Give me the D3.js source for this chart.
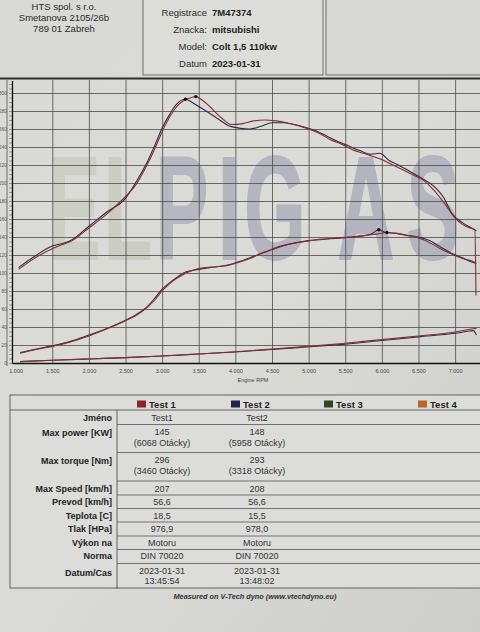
<!DOCTYPE html>
<html><head><meta charset="utf-8">
<script src="https://cdn.jsdelivr.net/npm/d3@7"></script>
<style>
html,body{margin:0;padding:0;background:#d6d6d3;}
svg{display:block;font-family:"Liberation Sans",Arial,sans-serif;}
</style>
</head><body>
<svg id="c" width="480" height="632"></svg>
<script>
// ---------- DATA ----------
const companyLines = ["HTS spol. s r.o.", "Smetanova 2105/26b", "789 01 Zabreh"];
const vehicleLabels = ["Registrace", "Znacka:", "Model:", "Datum"];
const vehicleValues = ["7M47374", "mitsubishi", "Colt 1,5 110kw", "2023-01-31"];

const rpmTicks = [1000,1500,2000,2500,3000,3500,4000,4500,5000,5500,6000,6500,7000];
const yTicks = [0,20,40,60,80,100,120,140,160,180,200,220,240,260,280,300];
const xTitle = "Engine RPM";
const watermarkLetters = ["E","L","P","I","G","A","S"];

const torqueTest1 = [[1040,104],[1250,116],[1500,127],[1650,132],[1750,135],[2000,150],[2250,166],[2500,185],[2650,199],[2800,221],[2900,238],[3000,257],[3100,273],[3200,285],[3300,292],[3400,295],[3460,296],[3550,292],[3650,285],[3800,273],[3950,265],[4100,266],[4250,269],[4400,270],[4550,269],[4700,267],[4850,264],[5000,260],[5150,255],[5300,248],[5450,243],[5600,237],[5750,233],[5900,229],[6000,226],[6100,222],[6250,216],[6400,210],[6550,204],[6700,193],[6850,178],[7000,161],[7100,154],[7200,150],[7270,148],[7285,75]];
const torqueTest2 = [[1040,106],[1250,118],[1500,130],[1650,133],[1750,136],[2000,152],[2250,168],[2500,183],[2650,202],[2800,224],[2900,242],[3000,261],[3100,276],[3200,288],[3318,293],[3400,290],[3500,285],[3600,280],[3750,272],[3900,264],[4050,261],[4200,260],[4350,263],[4500,267],[4650,267],[4800,265],[4950,262],[5100,258],[5250,252],[5400,246],[5550,241],[5700,236],[5850,232],[5972,233],[6100,225],[6250,219],[6400,212],[6550,205],[6700,197],[6850,183],[6950,167],[7100,156],[7200,151],[7290,147]];
const powerTest1 = [[1060,11],[1250,14.5],[1500,18.5],[1750,23.5],[2000,30],[2250,38],[2500,47],[2650,53],[2800,62],[2900,70],[3000,80],[3100,88],[3200,94],[3300,99],[3460,104],[3600,106],[3750,107],[3900,108.5],[4050,112],[4200,116],[4350,122],[4500,126],[4650,130],[4800,133],[4950,135],[5100,137],[5250,138],[5400,139],[5550,140],[5700,141],[5850,142.5],[5950,143.5],[6068,145],[6200,144],[6350,141.5],[6500,139],[6650,134],[6800,127],[6950,121],[7100,116],[7250,112.5],[7285,110]];
const powerTest2 = [[1060,11.5],[1250,15],[1500,19],[1750,24],[2000,31],[2250,38.5],[2500,47.5],[2650,54],[2800,63],[2900,72],[3000,82],[3100,89],[3200,95],[3318,101],[3500,104],[3650,106],[3800,107.5],[3950,110],[4100,114],[4250,118.5],[4400,123],[4550,128],[4700,131.5],[4850,134],[5000,136],[5150,137],[5300,138],[5450,139],[5600,140],[5750,141.5],[5850,143],[5958,148],[6050,145],[6200,144],[6350,142],[6500,140],[6650,136],[6800,129],[6950,122],[7100,117],[7200,113],[7290,111]];
const lossTest1 = [[1060,1.5],[1500,3],[2000,4.5],[2500,6],[3000,7.8],[3500,10],[4000,12.5],[4500,15.5],[5000,18.5],[5500,22],[6000,26],[6500,30],[7000,34.5],[7250,38],[7290,38.5]];
const lossTest2 = [[1060,1.5],[1500,3],[2000,4.5],[2500,6],[3000,7.8],[3500,10],[4000,12.3],[4500,15],[5000,18],[5500,21],[6000,25],[6500,29],[7000,33],[7200,35.5],[7250,36],[7290,31]];
const peakMarkers = [[3460,296],[3318,293],[6068,145],[5958,148]];

const legendNames = ["Test 1","Test 2","Test 3","Test 4"];
const legendColors = ["#8e2424","#22224e","#2f4a22","#b8682e"];
const rowLabels = ["Jméno","Max power [KW]","Max torque [Nm]","Max Speed [km/h]","Prevod [km/h]","Teplota [C]","Tlak [HPa]","Výkon na","Norma","Datum/Cas"];
const test1Values = [["Test1"],["145","(6068 Otácky)"],["296","(3460 Otácky)"],["207"],["56,6"],["18,5"],["976,9"],["Motoru"],["DIN 70020"],["2023-01-31","13:45:54"]];
const test2Values = [["Test2"],["148","(5958 Otácky)"],["293","(3318 Otácky)"],["208"],["56,6"],["15,5"],["978,0"],["Motoru"],["DIN 70020"],["2023-01-31","13:48:02"]];
const footer = "Measured on V-Tech dyno (www.vtechdyno.eu)";

// ---------- LAYOUT ----------
const svg = d3.select("#c");
const defs = svg.append("defs");
const bg = defs.append("linearGradient").attr("id","bg").attr("x1","0").attr("y1","0").attr("x2","1").attr("y2","1");
bg.append("stop").attr("offset","0").attr("stop-color","#d9d9d6");
bg.append("stop").attr("offset","0.5").attr("stop-color","#dbdbd8");
bg.append("stop").attr("offset","1").attr("stop-color","#cdcdcb");
svg.append("rect").attr("width",480).attr("height",632).attr("fill","url(#bg)");

// header
svg.append("g").selectAll("text").data(companyLines).join("text")
  .attr("x",64).attr("y",(d,i)=>9.5+i*11).attr("text-anchor","middle")
  .attr("font-size",9.5).attr("fill","#2a2a2a").text(d=>d);
svg.append("rect").attr("x",143).attr("y",-2).attr("width",180).attr("height",77)
  .attr("fill","#dcdcd9").attr("stroke","#555").attr("stroke-width",0.8);
svg.append("rect").attr("x",326).attr("y",-2).attr("width",160).attr("height",77)
  .attr("fill","#d7d7d4").attr("stroke","#555").attr("stroke-width",0.8);
const hdrY = [13,30,47,63.5];
vehicleLabels.forEach((t,i)=>{
  svg.append("text").attr("x",207).attr("y",hdrY[i]+3.3).attr("text-anchor","end")
    .attr("font-size",9.5).attr("fill","#2a2a2a").text(t);
  svg.append("text").attr("x",212).attr("y",hdrY[i]+3.3)
    .attr("font-size",9.5).attr("font-weight","bold").attr("fill","#222").text(vehicleValues[i]);
});

// chart
const x = d3.scaleLinear().domain([950,7340]).range([12,480]);
const y = d3.scaleLinear().domain([0,314]).range([363,80.4]);

// watermark (letters drawn individually)
const wmCenters = [74,128,182,229,275,366,433];
const wmColors = ["#cdcfc4","#cbcdc2","#b7b7c1","#b5b5bf","#b5b5bf","#b4b4be","#b5b5bf"];
svg.append("g").selectAll("text").data(watermarkLetters).join("text")
  .attr("transform",(d,i)=>`translate(${wmCenters[i]},259) scale(0.54,1)`)
  .attr("text-anchor","middle").attr("font-size",146).attr("font-weight","bold")
  .attr("fill",(d,i)=>wmColors[i]).attr("stroke",(d,i)=>wmColors[i]).attr("stroke-width",2)
  .attr("stroke-linejoin","round").text(d=>d);

// grid
svg.append("g").attr("transform","translate(0,363)")
  .call(d3.axisBottom(x).tickValues(rpmTicks.slice(1)).tickSize(-(363-80)).tickFormat(""))
  .call(g=>g.select(".domain").remove())
  .call(g=>g.selectAll("line").attr("stroke","#4a4a4a").attr("stroke-width",0.8));
svg.append("g").attr("transform","translate(12,0)")
  .call(d3.axisLeft(y).tickValues(yTicks.slice(1)).tickSize(-(480-12)).tickFormat(""))
  .call(g=>g.select(".domain").remove())
  .call(g=>g.selectAll("line").attr("stroke","#4a4a4a").attr("stroke-width",0.8));

// frame
svg.append("line").attr("x1",0).attr("x2",480).attr("y1",78.5).attr("y2",78.5).attr("stroke","#2e2e2e").attr("stroke-width",2);
svg.append("line").attr("x1",7).attr("x2",7).attr("y1",80).attr("y2",366).attr("stroke","#555").attr("stroke-width",0.8);

// minor ticks
svg.append("g").attr("transform","translate(12,0)")
  .call(d3.axisLeft(y).tickValues(d3.range(0,315,5)).tickSize(3).tickFormat(""))
  .call(g=>g.select(".domain").remove())
  .call(g=>g.selectAll("line").attr("stroke","#555").attr("stroke-width",0.5));

// axes
const fmt = d3.formatLocale({decimal:",",thousands:".",grouping:[3],currency:["",""]}).format(",");
svg.append("g").attr("transform","translate(0,363)")
  .call(d3.axisBottom(x).tickValues(rpmTicks).tickSize(0).tickPadding(6).tickFormat(fmt))
  .call(g=>g.select(".domain").attr("stroke","#111").attr("stroke-width",1.3))
  .call(g=>g.selectAll("text").attr("font-size",5.5).attr("fill","#444").attr("font-family","Liberation Sans, Arial"));
svg.append("g").attr("transform","translate(12,0)")
  .call(d3.axisLeft(y).tickValues(yTicks).tickSize(0).tickPadding(5).tickFormat(d3.format("d")))
  .call(g=>g.select(".domain").attr("stroke","#111").attr("stroke-width",1.3))
  .call(g=>g.selectAll("text").attr("font-size",5).attr("fill","#555").attr("font-family","Liberation Sans, Arial"));
svg.append("text").attr("x",253).attr("y",382).attr("text-anchor","middle").attr("font-size",5.5).attr("fill","#444").text(xTitle);

// curves
const line = d3.line().x(d=>x(d[0])).y(d=>y(d[1])).curve(d3.curveMonotoneX);
const curves = [[lossTest2,1],[lossTest1,0],[powerTest2,1],[powerTest1,0],[torqueTest2,1],[torqueTest1,0]];
const lineColors = ["#8a2c2c","#2e2e52"];
svg.append("g").selectAll("path").data(curves).join("path")
  .attr("d",d=>line(d[0])).attr("fill","none")
  .attr("stroke",d=>lineColors[d[1]]).attr("stroke-width",1.1);
svg.append("g").selectAll("circle").data(peakMarkers).join("circle")
  .attr("cx",d=>x(d[0])).attr("cy",d=>y(d[1])).attr("r",1.7).attr("fill","#111");

// ---------- TABLE ----------
const tb = svg.append("g");
tb.append("rect").attr("x",10).attr("y",395).attr("width",475).attr("height",193)
  .attr("fill","#dcdcda").attr("stroke","#444").attr("stroke-width",0.8);
tb.append("line").attr("x1",10).attr("x2",480).attr("y1",410).attr("y2",410).attr("stroke","#444").attr("stroke-width",0.8);
tb.append("line").attr("x1",117).attr("x2",117).attr("y1",410).attr("y2",589).attr("stroke","#444").attr("stroke-width",0.8);
const rowLines = [424.5,452.5,481,495,508.5,522,536,549.5,563.5];
tb.selectAll(".rl").data(rowLines).join("line").attr("class","rl")
  .attr("x1",117).attr("x2",480).attr("y1",d=>d).attr("y2",d=>d).attr("stroke","#555").attr("stroke-width",0.8);

const legX = [137,231,324,418];
legendNames.forEach((n,i)=>{
  tb.append("rect").attr("x",legX[i]).attr("y",400.5).attr("width",9).attr("height",7).attr("fill",legendColors[i]);
  tb.append("text").attr("x",legX[i]+12).attr("y",407.5).attr("font-size",9.5).attr("font-weight","bold").attr("fill","#222").text(n);
});

const rowY = [418,432.7,460.7,489,501.7,515.7,528.5,542.3,555.7,572.3];
const lineY = [[418],[431.7,443],[459.7,471],[489],[501.7],[515.7],[528.5],[542.3],[555.7],[570.7,581]];
rowLabels.forEach((t,i)=>{
  tb.append("text").attr("x",112).attr("y",rowY[i]+3.2).attr("text-anchor","end")
    .attr("font-size",9).attr("font-weight","bold").attr("fill","#222").text(t);
  [test1Values,test2Values].forEach((vals,c)=>{
    vals[i].forEach((v,k)=>{
      tb.append("text").attr("x",c===0?162:257).attr("y",lineY[i][k]+3.2).attr("text-anchor","middle")
        .attr("font-size",9).attr("fill","#333").text(v);
    });
  });
});
svg.append("text").attr("x",255).attr("y",598.5).attr("text-anchor","middle")
  .attr("font-size",7.3).attr("font-style","italic").attr("font-weight","bold").attr("fill","#333").text(footer);
</script>
</body></html>
